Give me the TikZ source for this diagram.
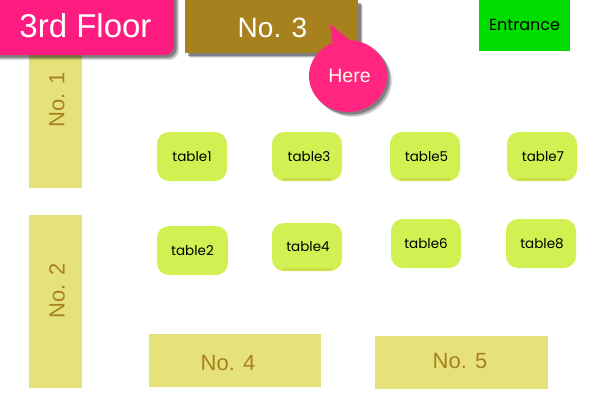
\documentclass[tikz,border=0pt]{standalone}
\usepackage{fontspec}
\setmainfont{Poppins}
\newfontfamily\roomfont{Liberation Sans}
\usetikzlibrary{shapes.geometric, shadows}
\definecolor{roomfill}{HTML}{E5E27A}
\definecolor{roomtext}{HTML}{A8811F}
\definecolor{tablefill}{HTML}{D1F052}
\definecolor{tableedge}{HTML}{CFDC4C}
\definecolor{floorpink}{HTML}{FF1C80}
\definecolor{herepink}{HTML}{FF2580}
\definecolor{entrancegreen}{HTML}{00DD00}
\tikzset{
    room/.style={fill=roomfill, inner sep=0pt},
    roomlabel/.style={text=roomtext, inner sep=0pt, font=\roomfont\fontsize{22}{22}\selectfont},
    tablebox/.style={fill=tablefill, rounded corners=12pt, minimum width=70pt, minimum height=49pt, inner sep=0pt, font=\fontsize{13.5}{13.5}\selectfont},
    softshadow/.style={
        drop shadow={shadow xshift=5pt, shadow yshift=-5pt, fill=black, opacity=.1},
        drop shadow={shadow xshift=4pt, shadow yshift=-4pt, fill=black, opacity=.2},
        drop shadow={shadow xshift=2.5pt, shadow yshift=-2.5pt, fill=black, opacity=.3}
    }
}

\begin{document}
\begin{tikzpicture}[x=1pt, y=-1pt]
    \useasboundingbox(0, 0)rectangle(600, 400);
    \fill[white](0, 0)rectangle(600, 400);
    % rooms
    \node[room, minimum width=53pt, minimum height=133pt]at(55.5, 121.5)(room1){};
    \node[room, minimum width=53pt, minimum height=173pt]at(55.5, 301.5)(room2){};
    \node[room, softshadow, fill=roomtext, minimum width=173pt, minimum height=53pt]at(271.5, 26.5)(room3){};
    \node[room, minimum width=172pt, minimum height=53pt]at(235, 360.5)(room4){};
    \node[room, minimum width=173pt, minimum height=53pt]at(461.5, 362.5)(room5){};
    \node[roomlabel, rotate=90]at(57, 100)(label1){No. 1};
    \node[roomlabel, rotate=90]at(57, 291)(label2){No. 2};
    \node[roomlabel, text=white, font=\roomfont\fontsize{28}{28}\selectfont]at(272.5, 28)(label3){No. 3};
    \node[roomlabel]at(228, 363)(label4){No. 4};
    \node[roomlabel]at(460, 361)(label5){No. 5};
    \node[fill=entrancegreen, minimum width=91pt, minimum height=51pt, inner sep=0pt, font=\fontsize{16}{16}\selectfont]at(524.5, 25)(entrance){Entrance};
    % tables
    \node[tablebox]at(192, 156.5)(table1){\raisebox{-1pt}{table1}};
    \node[tablebox, minimum width=71pt]at(192.5, 250.5)(table2){table2};
    \node[tablebox]at(307, 156.5)(table3){\raisebox{-1pt}{\hspace{4pt}table3}};
    \node[tablebox, minimum height=48pt]at(307, 247)(table4){\raisebox{-1pt}{\hspace{2pt}table4}};
    \node[tablebox]at(425, 156.5)(table5){\raisebox{-1pt}{\hspace{3pt}table5}};
    \node[tablebox]at(426, 243.5)(table6){table6};
    \node[tablebox]at(542, 156.5)(table7){\raisebox{-1pt}{\hspace{2pt}table7}};
    \node[tablebox]at(541, 243.5)(table8){\raisebox{-1pt}{\hspace{2pt}table8}};
    \foreach \t in {table3, table4, table5, table7}
        \fill[tableedge]([xshift=-25pt]\t.south)rectangle([xshift=25pt, yshift=3pt]\t.south);
    % floor tab
    \fill[floorpink, softshadow, rounded corners=9pt](-14, -14)--(174, -14)--(174, 55)--(-14, 55)--cycle;
    \node[text=white, inner sep=0pt, font=\roomfont\fontsize{33}{33}\selectfont]at(85.5, 26)(floor){3rd Floor};
    % bubble
    \node[ellipse, fill=herepink, softshadow, minimum width=78pt, minimum height=72pt, inner sep=0pt, text=white!90!yellow, font=\roomfont\fontsize{19.5}{19.5}\selectfont]at(348, 76)(here){\hspace{3pt}Here};
    \coordinate(tip)at(330, 24);
    \fill[herepink](tip)--(here.115)--(here.88)--cycle;
\end{tikzpicture}
\end{document}
